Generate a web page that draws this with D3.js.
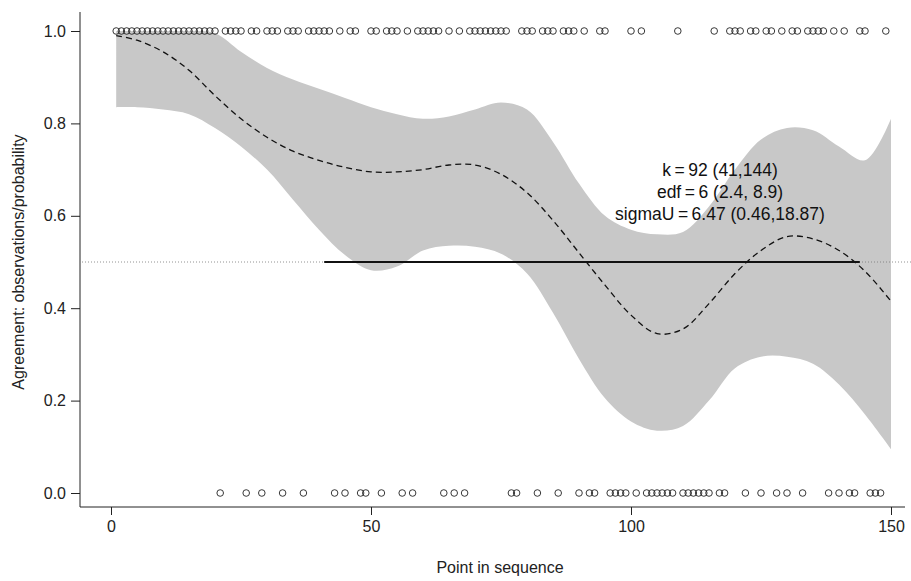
<!DOCTYPE html>
<html>
<head>
<meta charset="utf-8">
<script src="https://cdnjs.cloudflare.com/ajax/libs/d3/7.8.5/d3.min.js"></script>
<style>
  body { margin: 0; background: #fff; }
  text { font-family: "Liberation Sans", Arial, sans-serif; }
</style>
</head>
<body>
<div id="chart"></div>
<script>
// observations: position in sequence, agreement (1) or not (0)
var ones = [1,2,3,4,5,6,7,8,9,10,11,12,13,14,15,16,17,18,19,20,
            22,23,24,25,27,28,30,31,32,34,35,36,38,39,40,41,42,44,46,47,
            50,51,53,54,55,57,59,60,61,62,63,65,67,69,70,71,72,73,74,75,76,
            79,80,81,83,84,85,87,88,89,91,94,95,100,102,109,116,
            119,120,121,123,124,126,127,129,131,132,134,135,136,137,139,141,144,145,149];
var zeros = [21,26,29,33,37,43,45,48,49,52,56,58,64,66,68,77,78,82,86,90,92,93,
             96,97,98,99,101,103,104,105,106,107,108,110,111,112,113,114,115,117,118,
             122,125,128,130,133,138,140,142,143,146,147,148];

// smooth fit and its band
var fitX =   [1, 5, 10, 15, 20, 25, 30, 35, 40, 45, 50, 55, 60, 65, 70, 75, 80, 85, 90, 95, 100, 105, 110, 115, 120, 125, 130, 135, 140, 145, 150];
var fitY =   [0.99, 0.98, 0.955, 0.915, 0.86, 0.81, 0.77, 0.74, 0.72, 0.705, 0.695, 0.695, 0.70, 0.71, 0.71, 0.69, 0.65, 0.59, 0.52, 0.45, 0.385, 0.345, 0.355, 0.41, 0.475, 0.525, 0.555, 0.55, 0.525, 0.48, 0.415];
var upperY = [1.0, 1.0, 1.0, 1.0, 0.995, 0.955, 0.92, 0.895, 0.875, 0.855, 0.835, 0.82, 0.81, 0.815, 0.83, 0.845, 0.83, 0.76, 0.67, 0.60, 0.57, 0.56, 0.565, 0.62, 0.70, 0.765, 0.79, 0.785, 0.75, 0.72, 0.81];
var lowerY = [0.835, 0.835, 0.83, 0.82, 0.79, 0.75, 0.70, 0.635, 0.57, 0.515, 0.482, 0.49, 0.525, 0.535, 0.533, 0.518, 0.475, 0.39, 0.29, 0.205, 0.155, 0.135, 0.145, 0.20, 0.27, 0.295, 0.295, 0.28, 0.235, 0.17, 0.095];

var kInterval = [41, 144];
var refLevel = 0.5;
var xTicks = [0, 50, 100, 150];
var yTicks = [0, 0.2, 0.4, 0.6, 0.8, 1.0];
var notes = ["k\u2009=\u200992 (41,144)", "edf\u2009=\u20096 (2.4, 8.9)", "sigmaU\u2009=\u20096.47 (0.46,18.87)"];

var W = 911, H = 581;
var axisLeft = 80, axisRight = 905, axisTop = 12, axisBottom = 507;

var svg = d3.select("#chart").append("svg")
            .attr("width", W)
            .attr("height", H);

var x = d3.scaleLinear().domain([0, 150]).range([111, 891]);
var y = d3.scaleLinear().domain([0, 1]).range([493, 31]);

var band = fitX.map(function(d, i){ return {x: d, lo: lowerY[i], hi: upperY[i], f: fitY[i]}; });

// keep band under the 1.0 line
svg.append("clipPath").attr("id", "clip")
   .append("rect")
   .attr("x", 0).attr("y", y(1))
   .attr("width", W).attr("height", y(0) - y(1));

// grey band
svg.append("path")
   .datum(band)
   .attr("clip-path", "url(#clip)")
   .attr("d", d3.area()
        .x(function(d){ return x(d.x); })
        .y0(function(d){ return y(d.lo); })
        .y1(function(d){ return y(d.hi); })
        .curve(d3.curveCatmullRom))
   .attr("fill", "#c8c8c8");

// dotted reference line
svg.append("line")
   .attr("x1", axisLeft + 2)
   .attr("x2", W)
   .attr("y1", y(refLevel))
   .attr("y2", y(refLevel))
   .attr("stroke", "#777")
   .attr("stroke-width", 0.8)
   .attr("stroke-dasharray", "1,2");

// dashed fit
svg.append("path")
   .datum(band)
   .attr("d", d3.line()
        .x(function(d){ return x(d.x); })
        .y(function(d){ return y(d.f); })
        .curve(d3.curveCatmullRom))
   .attr("fill", "none")
   .attr("stroke", "#111")
   .attr("stroke-width", 1.3)
   .attr("stroke-dasharray", "6,4");

// interval for k
svg.append("line")
   .attr("x1", x(kInterval[0]))
   .attr("x2", x(kInterval[1]))
   .attr("y1", y(refLevel))
   .attr("y2", y(refLevel))
   .attr("stroke", "#111")
   .attr("stroke-width", 2);

// observation circles
svg.selectAll("circle.one").data(ones).enter().append("circle")
   .attr("class", "one")
   .attr("cx", function(d){ return x(d); })
   .attr("cy", y(1))
   .attr("r", 3.3)
   .attr("fill", "none")
   .attr("stroke", "#222")
   .attr("stroke-width", 0.9);

svg.selectAll("circle.zero").data(zeros).enter().append("circle")
   .attr("class", "zero")
   .attr("cx", function(d){ return x(d); })
   .attr("cy", y(0))
   .attr("r", 3.3)
   .attr("fill", "none")
   .attr("stroke", "#222")
   .attr("stroke-width", 0.9);

// axes
var gx = svg.append("g")
            .attr("transform", "translate(0," + axisBottom + ")")
            .call(d3.axisBottom(x).tickValues(xTicks).tickFormat(d3.format("d")).tickSize(8).tickPadding(6));
var gy = svg.append("g")
            .attr("transform", "translate(" + axisLeft + ",0)")
            .call(d3.axisLeft(y).tickValues(yTicks).tickFormat(d3.format(".1f")).tickSize(9).tickPadding(5));

[gx, gy].forEach(function(g){
    g.select(".domain").remove();
    g.selectAll("line").attr("stroke", "#222");
    g.selectAll("text").attr("font-size", 16).attr("fill", "#222")
     .attr("font-family", "Liberation Sans, Arial, sans-serif");
});

svg.append("line")
   .attr("x1", axisLeft).attr("x2", axisRight)
   .attr("y1", axisBottom).attr("y2", axisBottom)
   .attr("stroke", "#222").attr("stroke-width", 1);
svg.append("line")
   .attr("x1", axisLeft).attr("x2", axisLeft)
   .attr("y1", axisTop).attr("y2", axisBottom)
   .attr("stroke", "#222").attr("stroke-width", 1);

// axis titles
svg.append("text")
   .text("Point in sequence")
   .attr("x", 500)
   .attr("y", 573)
   .attr("text-anchor", "middle")
   .attr("font-size", 16)
   .attr("fill", "#222");

svg.append("text")
   .text("Agreement: observations/probability")
   .attr("transform", "translate(24," + y(0.5) + ") rotate(-90)")
   .attr("text-anchor", "middle")
   .attr("font-size", 16)
   .attr("fill", "#222");

// model summary
svg.selectAll("text.note").data(notes).enter().append("text")
   .attr("class", "note")
   .text(function(d){ return d; })
   .attr("x", 720)
   .attr("y", function(d, i){ return 176 + i * 22; })
   .attr("text-anchor", "middle")
   .attr("font-size", 17.5)
   .attr("fill", "#111");
</script>
</body>
</html>
